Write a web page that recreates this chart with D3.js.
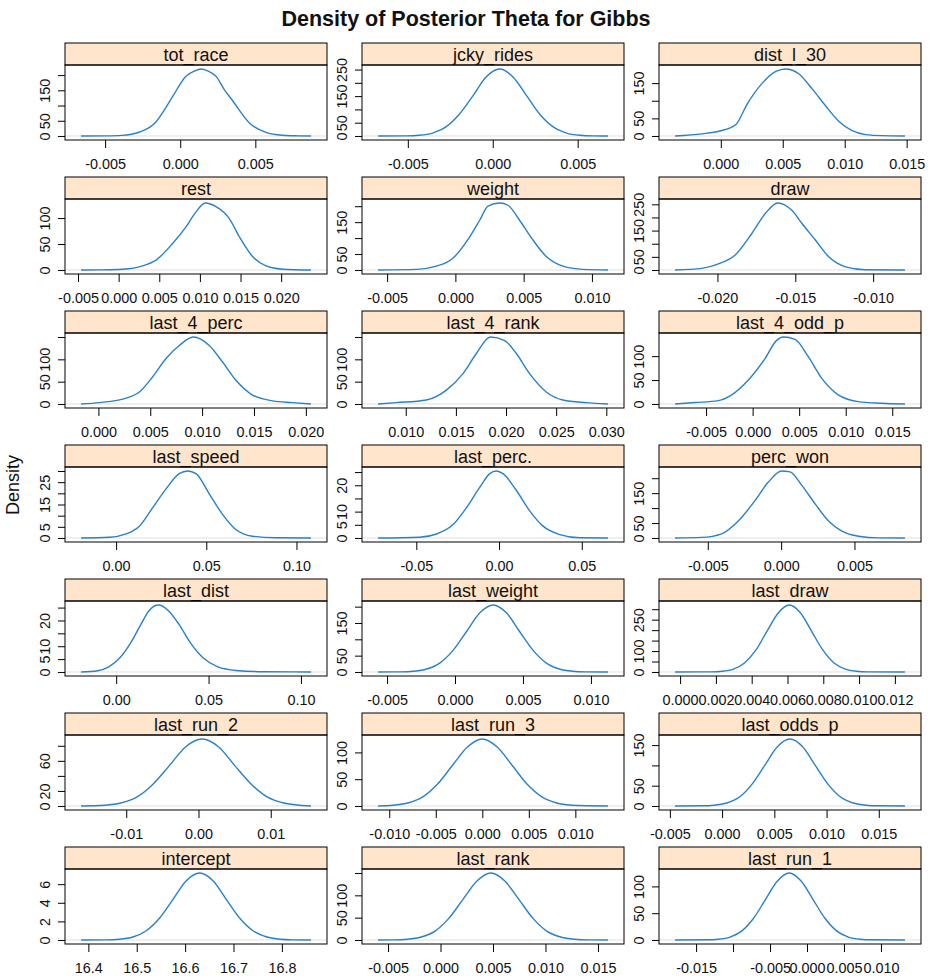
<!DOCTYPE html>
<html>
<head>
<meta charset="utf-8">
<script src="https://cdn.jsdelivr.net/npm/d3@7"></script>
<style>
  body { margin: 0; background: #fff; }
  svg text { font-family: "Liberation Sans", Arial, Helvetica, sans-serif; fill: #111; }
</style>
</head>
<body>
<div id="chart"></div>
<script>
// Panel names, top-left to bottom-right
const panelNames = [
  "tot_race", "jcky_rides", "dist_l_30",
  "rest", "weight", "draw",
  "last_4_perc", "last_4_rank", "last_4_odd_p",
  "last_speed", "last_perc.", "perc_won",
  "last_dist", "last_weight", "last_draw",
  "last_run_2", "last_run_3", "last_odds_p",
  "intercept", "last_rank", "last_run_1"
];

// Density curves (x value, density)
const tot_race_x = [-0.0066, -0.0050, -0.0039, -0.0027, -0.0016, -0.0010, -0.0005, 0.0004, 0.0009, 0.0014, 0.0019, 0.0024, 0.0029, 0.0035, 0.0046, 0.0057, 0.0068, 0.0078, 0.0087];
const tot_race_y = [0, 0.5, 2, 13, 47, 90, 130, 197, 212, 220, 212, 195, 155, 115, 43, 12, 2.5, 0.5, 0];

const jcky_rides_x = [-0.00675, -0.00513, -0.00434, -0.00355, -0.00276, -0.00197, -0.00118, -0.00039, 0.0004, 0.00119, 0.00198, 0.00277, 0.00356, 0.00435, 0.00514, 0.00593, 0.00678];
const jcky_rides_y = [0, 0.5, 2.8, 11, 34, 82, 150, 222, 252, 222, 153, 82, 34, 11, 2.8, 0.5, 0];

const dist_l_30_x = [-0.00369, -0.0015, -0.0001, 0.0012, 0.00215, 0.00335, 0.00444, 0.00524, 0.00631, 0.00739, 0.00847, 0.00954, 0.0106, 0.0117, 0.0130, 0.01486];
const dist_l_30_y = [0, 6, 14, 32, 92, 150, 183, 190, 176, 133, 85, 41, 15, 4, 1, 0];

const rest_x = [-0.00462, -0.002, 0.0005, 0.00295, 0.0046, 0.00664, 0.00829, 0.00952, 0.01066, 0.01198, 0.01362, 0.01485, 0.01648, 0.01813, 0.02017, 0.02366];
const rest_y = [0, 0.3, 1.5, 8, 19, 51, 83, 112, 129, 122, 99, 64, 26, 8, 1.5, 0];

const weight_x = [-0.00566, -0.00285, -0.00139, -0.00018, 0.00105, 0.00178, 0.00239, 0.00324, 0.00385, 0.0047, 0.00568, 0.00666, 0.00787, 0.00934, 0.01117];
const weight_y = [0, 2, 12, 37, 104, 156, 200, 210, 203, 156, 94, 42, 12, 2, 0];

const draw_x = [-0.02272, -0.02101, -0.01994, -0.01886, -0.01779, -0.01693, -0.01612, -0.01522, -0.01457, -0.01371, -0.01285, -0.01178, -0.0105, -0.00796];
const draw_y = [0, 6, 23, 57, 139, 215, 255, 227, 177, 114, 50, 12, 1, 0];

const last_4_perc_x = [-0.00167, 0.0001, 0.00267, 0.00395, 0.00523, 0.00652, 0.0078, 0.00915, 0.01069, 0.01197, 0.01326, 0.01486, 0.01679, 0.01871, 0.02049];
const last_4_perc_y = [0, 3, 13, 27, 61, 102, 131, 150, 131, 94, 53, 20, 7, 3, 0];

const last_4_rank_x = [0.00724, 0.00907, 0.01206, 0.01405, 0.01571, 0.01704, 0.01844, 0.01986, 0.02103, 0.02235, 0.02401, 0.02567, 0.028, 0.03016];
const last_4_rank_y = [0, 3, 9, 31, 68, 113, 150, 142, 113, 68, 27, 9, 3, 0];

const last_4_odd_p_x = [-0.00833, -0.00618, -0.00368, -0.00225, -0.00046, 0.00133, 0.00258, 0.00329, 0.00455, 0.00598, 0.00741, 0.0092, 0.01134, 0.01384, 0.01636];
const last_4_odd_p_y = [0, 3, 7, 19, 50, 95, 133, 140, 135, 99, 54, 19, 5, 1.5, 0];

const last_speed_x = [-0.0194, -0.0037, 0.0055, 0.0129, 0.0203, 0.0277, 0.035, 0.0397, 0.0443, 0.0517, 0.059, 0.0664, 0.0756, 0.0886, 0.108];
const last_speed_y = [0, 0.3, 1.8, 5.3, 13.6, 22, 28.8, 30, 28.8, 19.7, 10.6, 3.8, 0.8, 0.1, 0];

const last_perc_x = [-0.0731, -0.0479, -0.0378, -0.0278, -0.0197, -0.0117, -0.0056, -0.0016, 0.0024, 0.0105, 0.0185, 0.0266, 0.0367, 0.0487, 0.0658];
const last_perc_y = [0, 0.3, 1.5, 5.1, 11.5, 19.2, 24.4, 25.4, 24.4, 18, 10.3, 4.5, 1.3, 0.1, 0];

const perc_won_x = [-0.00723, -0.00542, -0.00406, -0.00292, -0.00178, -0.00087, 0.00004, 0.00061, 0.00141, 0.00232, 0.00323, 0.00414, 0.00528, 0.00665, 0.00844];
const perc_won_y = [0, 2, 14, 57, 125, 187, 224, 221, 176, 114, 57, 23, 6, 0.5, 0];

const last_dist_x = [-0.019, -0.010, -0.004, 0.002, 0.008, 0.013, 0.018, 0.023, 0.028, 0.034, 0.040, 0.047, 0.055, 0.065, 0.080, 0.1054];
const last_dist_y = [0, 0.5, 2, 5.5, 11.5, 18, 24, 26, 24, 18.5, 11.5, 5.5, 2, 0.6, 0.1, 0];

const last_weight_x = [-0.00566, -0.00403, -0.00305, -0.00208, -0.0011, -0.00013, 0.00085, 0.00183, 0.0028, 0.00378, 0.00475, 0.00573, 0.0067, 0.00768, 0.00865, 0.00963, 0.01125];
const last_weight_y = [0, 0.4, 2.3, 9, 28, 67, 124, 181, 205, 181, 124, 67, 28, 9, 2.3, 0.4, 0];

const last_draw_x = [-0.00028, 0.00173, 0.00235, 0.00298, 0.0036, 0.00423, 0.00485, 0.00548, 0.0061, 0.00673, 0.00735, 0.00798, 0.0086, 0.00923, 0.00985, 0.01048, 0.01256];
const last_draw_y = [0, 0.7, 3.5, 14, 43, 104, 194, 282, 320, 282, 194, 104, 43, 14, 3.5, 0.7, 0];

const last_run_2_x = [-0.01625, -0.01295, -0.01075, -0.0085, -0.0063, -0.004, -0.0018, 0.0005, 0.0028, 0.005, 0.0073, 0.0095, 0.0118, 0.014, 0.01556];
const last_run_2_y = [0, 1, 3.9, 12, 29, 54, 78.5, 89, 78.5, 54, 29, 12, 3.9, 1, 0];

const last_run_3_x = [-0.0112, -0.0096, -0.008, -0.0064, -0.0048, -0.0032, -0.0016, 0, 0.0016, 0.0032, 0.0048, 0.0064, 0.008, 0.0096, 0.0112, 0.0135];
const last_run_3_y = [0, 1.4, 5.5, 17, 41, 76, 110, 125, 110, 76, 41, 17, 5.5, 1.4, 0.3, 0];

const last_odds_p_x = [-0.0045, -0.00197, -0.00076, 0.00045, 0.00166, 0.00287, 0.00408, 0.00529, 0.0065, 0.00771, 0.00892, 0.01013, 0.01134, 0.01255, 0.01376, 0.01497, 0.0175];
const last_odds_p_y = [0, 0.4, 1.8, 7.3, 22, 54, 100, 146, 165, 146, 100, 54, 22, 7.3, 1.8, 0.4, 0];

const intercept_x = [16.385, 16.436, 16.464, 16.492, 16.519, 16.547, 16.575, 16.602, 16.63, 16.658, 16.685, 16.713, 16.741, 16.769, 16.796, 16.824, 16.86];
const intercept_y = [0, 0.016, 0.08, 0.32, 0.97, 2.34, 4.37, 6.35, 7.2, 6.35, 4.37, 2.34, 0.97, 0.32, 0.08, 0.016, 0];

const last_rank_x = [-0.00595, -0.00451, -0.00318, -0.00185, -0.00052, 0.00081, 0.00214, 0.00347, 0.0048, 0.00613, 0.00746, 0.00879, 0.01012, 0.01145, 0.01278, 0.01411, 0.01595];
const last_rank_y = [0, 0.3, 1.7, 6.6, 20, 49, 91, 132, 150, 132, 91, 49, 20, 6.6, 1.7, 0.3, 0];

const last_run_1_x = [-0.01784, -0.0136, -0.0120, -0.0104, -0.0088, -0.0072, -0.0056, -0.004, -0.0024, -0.0008, 0.0008, 0.0024, 0.004, 0.0056, 0.0072, 0.0088, 0.01324];
const last_run_1_y = [0, 0.3, 1.4, 5.5, 17, 41, 76, 110, 125, 110, 76, 41, 17, 5.5, 1.4, 0.3, 0];

const curveX = [tot_race_x, jcky_rides_x, dist_l_30_x, rest_x, weight_x, draw_x,
  last_4_perc_x, last_4_rank_x, last_4_odd_p_x, last_speed_x, last_perc_x, perc_won_x,
  last_dist_x, last_weight_x, last_draw_x, last_run_2_x, last_run_3_x, last_odds_p_x,
  intercept_x, last_rank_x, last_run_1_x];
const curveY = [tot_race_y, jcky_rides_y, dist_l_30_y, rest_y, weight_y, draw_y,
  last_4_perc_y, last_4_rank_y, last_4_odd_p_y, last_speed_y, last_perc_y, perc_won_y,
  last_dist_y, last_weight_y, last_draw_y, last_run_2_y, last_run_3_y, last_odds_p_y,
  intercept_y, last_rank_y, last_run_1_y];

// x-axis ticks and their labels
const xTicks = [
  [-0.005, 0, 0.005], [-0.005, 0, 0.005], [0, 0.005, 0.010, 0.015],
  [-0.005, 0, 0.005, 0.010, 0.015, 0.020], [-0.005, 0, 0.005, 0.010], [-0.020, -0.015, -0.010],
  [0, 0.005, 0.010, 0.015, 0.020], [0.010, 0.015, 0.020, 0.025, 0.030], [-0.005, 0, 0.005, 0.010, 0.015],
  [0, 0.05, 0.10], [-0.05, 0, 0.05], [-0.005, 0, 0.005],
  [0, 0.05, 0.10], [-0.005, 0, 0.005, 0.010], [0, 0.002, 0.004, 0.006, 0.008, 0.010, 0.012],
  [-0.01, 0, 0.01], [-0.010, -0.005, 0, 0.005, 0.010], [-0.005, 0, 0.005, 0.010, 0.015],
  [16.4, 16.5, 16.6, 16.7, 16.8], [-0.005, 0, 0.005, 0.010, 0.015], [-0.015, -0.010, -0.005, 0, 0.005, 0.010]
];
const xTickLabels = [
  ["-0.005", "0.000", "0.005"], ["-0.005", "0.000", "0.005"], ["0.000", "0.005", "0.010", "0.015"],
  ["-0.005", "0.000", "0.005", "0.010", "0.015", "0.020"], ["-0.005", "0.000", "0.005", "0.010"], ["-0.020", "-0.015", "-0.010"],
  ["0.000", "0.005", "0.010", "0.015", "0.020"], ["0.010", "0.015", "0.020", "0.025", "0.030"], ["-0.005", "0.000", "0.005", "0.010", "0.015"],
  ["0.00", "0.05", "0.10"], ["-0.05", "0.00", "0.05"], ["-0.005", "0.000", "0.005"],
  ["0.00", "0.05", "0.10"], ["-0.005", "0.000", "0.005", "0.010"], ["0.000", "0.002", "0.004", "0.006", "0.008", "0.010", "0.012"],
  ["-0.01", "0.00", "0.01"], ["-0.010", "-0.005", "0.000", "0.005", "0.010"], ["-0.005", "0.000", "0.005", "0.010", "0.015"],
  ["16.4", "16.5", "16.6", "16.7", "16.8"], ["-0.005", "0.000", "0.005", "0.010", "0.015"], ["-0.015", "", "-0.005", "0.000", "0.005", "0.010"]
];

// y-axis ticks and labels (blank where R skipped an overlapping label)
const yTicks = [
  [0, 50, 100, 150, 200], [0, 50, 100, 150, 200, 250], [0, 50, 100, 150],
  [0, 50, 100], [0, 50, 100, 150, 200], [0, 50, 100, 150, 200, 250],
  [0, 50, 100, 150], [0, 50, 100, 150], [0, 50, 100],
  [0, 5, 10, 15, 20, 25, 30], [0, 5, 10, 15, 20, 25], [0, 50, 100, 150, 200],
  [0, 5, 10, 15, 20, 25], [0, 50, 100, 150, 200], [0, 50, 100, 150, 200, 250, 300],
  [0, 20, 40, 60, 80], [0, 50, 100], [0, 50, 100, 150],
  [0, 2, 4, 6], [0, 50, 100, 150], [0, 50, 100]
];
const yTickLabels = [
  ["0", "50", "", "150", ""], ["0", "50", "", "150", "", "250"], ["0", "50", "", "150"],
  ["0", "50", "100"], ["0", "50", "", "150", ""], ["0", "50", "", "150", "", "250"],
  ["0", "50", "100", ""], ["0", "50", "100", ""], ["0", "50", "100"],
  ["0", "5", "", "15", "", "25", ""], ["0", "5", "10", "", "20", ""], ["0", "50", "", "150", ""],
  ["0", "5", "10", "", "20", ""], ["0", "50", "", "150", ""], ["0", "", "100", "", "", "250", ""],
  ["0", "20", "", "60", ""], ["0", "50", "100"], ["0", "50", "", "150"],
  ["0", "2", "4", "6"], ["0", "50", "100", ""], ["0", "50", "100"]
];

// Layout
const WIDTH = 936, HEIGHT = 976;
const COL_X = [65, 362, 659];
const PANEL_W = 262;
const ROW_TOP = 43, ROW_STEP = 134, STRIP_H = 22, PANEL_H = 75;
const PAD_X = 0.07, PAD_Y = 0.06;
const LINE_COLOR = "#2a80c8";
const STRIP_COLOR = "#ffe5cc";

const svg = d3.select("#chart")
  .append("svg")
  .attr("width", WIDTH)
  .attr("height", HEIGHT)
  .style("background-color", "#fff");

// Title
svg.append("text")
  .attr("x", 466)
  .attr("y", 26)
  .attr("text-anchor", "middle")
  .attr("font-size", "21.5px")
  .attr("font-weight", "bold")
  .text("Density of Posterior Theta for Gibbs");

// y label
svg.append("text")
  .attr("transform", "translate(19,485) rotate(-90)")
  .attr("text-anchor", "middle")
  .attr("font-size", "18px")
  .text("Density");

const line = d3.line()
  .x((d) => d[0])
  .y((d) => d[1])
  .curve(d3.curveMonotoneX);

panelNames.forEach((name, i) => {
  const col = i % 3;
  const row = Math.floor(i / 3);
  const x0 = COL_X[col];
  const stripTop = ROW_TOP + row * ROW_STEP;
  const top = stripTop + STRIP_H;
  const bottom = top + PANEL_H;

  const xs = curveX[i];
  const ys = curveY[i];
  const xMin = d3.min(xs), xMax = d3.max(xs);
  const xPad = (xMax - xMin) * PAD_X;
  const yMax = d3.max(ys);

  const xScale = d3.scaleLinear()
    .domain([xMin - xPad, xMax + xPad])
    .range([x0, x0 + PANEL_W]);
  const yScale = d3.scaleLinear()
    .domain([-yMax * PAD_Y, yMax * (1 + PAD_Y)])
    .range([bottom, top]);

  const g = svg.append("g");

  // Strip
  g.append("rect")
    .attr("x", x0)
    .attr("y", stripTop)
    .attr("width", PANEL_W)
    .attr("height", STRIP_H)
    .attr("fill", STRIP_COLOR)
    .attr("stroke", "#000")
    .attr("stroke-width", 1);
  g.append("text")
    .attr("x", x0 + PANEL_W / 2)
    .attr("y", stripTop + 18)
    .attr("text-anchor", "middle")
    .attr("font-size", "18px")
    .text(name);

  // Reference line at zero
  g.append("line")
    .attr("x1", x0)
    .attr("x2", x0 + PANEL_W)
    .attr("y1", yScale(0))
    .attr("y2", yScale(0))
    .attr("stroke", "#e0e0e0")
    .attr("stroke-width", 1);

  // Density curve
  g.append("path")
    .datum(xs.map((x, k) => [xScale(x), yScale(ys[k])]))
    .attr("d", line)
    .attr("fill", "none")
    .attr("stroke", LINE_COLOR)
    .attr("stroke-width", 1.4);

  // Panel border
  g.append("rect")
    .attr("x", x0)
    .attr("y", top)
    .attr("width", PANEL_W)
    .attr("height", PANEL_H)
    .attr("fill", "none")
    .attr("stroke", "#000")
    .attr("stroke-width", 1);

  // Bottom axis
  const xAxis = g.append("g")
    .attr("transform", `translate(0, ${bottom})`)
    .call(d3.axisBottom(xScale)
      .tickValues(xTicks[i])
      .tickFormat((d, k) => xTickLabels[i][k])
      .tickSize(8)
      .tickSizeOuter(0)
      .tickPadding(4));
  xAxis.select(".domain").remove();
  xAxis.selectAll("text")
    .attr("font-size", "14.4px")
    .attr("font-family", null)
    .attr("fill", "#111")
    .attr("y", 29)
    .attr("dy", 0);
  xAxis.selectAll("line").attr("stroke", "#000");

  // Left axis, labels rotated as in lattice
  const yAxis = g.append("g")
    .attr("transform", `translate(${x0}, 0)`)
    .call(d3.axisLeft(yScale)
      .tickValues(yTicks[i])
      .tickFormat((d, k) => yTickLabels[i][k])
      .tickSize(7)
      .tickSizeOuter(0));
  yAxis.select(".domain").remove();
  yAxis.selectAll("text")
    .attr("font-size", "14.4px")
    .attr("font-family", null)
    .attr("fill", "#111")
    .attr("transform", "rotate(-90)")
    .attr("x", 0)
    .attr("y", -15)
    .attr("dy", 0)
    .attr("text-anchor", "middle");
  yAxis.selectAll("line").attr("stroke", "#000");
});
</script>
</body>
</html>
